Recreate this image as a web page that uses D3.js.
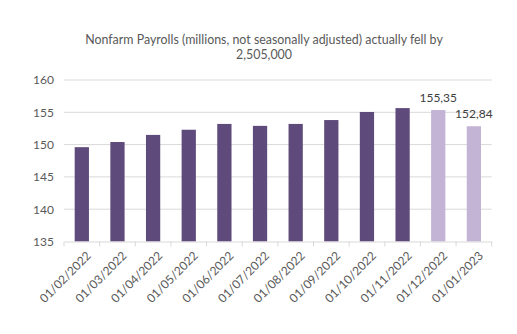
<!DOCTYPE html>
<html><head><meta charset="utf-8">
<script src="https://cdn.jsdelivr.net/npm/d3@7"></script>
<style>
html,body{margin:0;padding:0;background:#fff;}
svg{display:block;font-family:Lato,"Open Sans",sans-serif;}
</style></head>
<body>
<svg id="c" width="517" height="334"></svg>
<script>
const categories = ["01/02/2022","01/03/2022","01/04/2022","01/05/2022","01/06/2022","01/07/2022","01/08/2022","01/09/2022","01/10/2022","01/11/2022","01/12/2022","01/01/2023"];
const values = [149.6,150.4,151.5,152.3,153.2,152.9,153.2,153.8,155.05,155.65,155.35,152.84];
const highlighted = [false,false,false,false,false,false,false,false,false,false,true,true];
const dataLabels = ["","","","","","","","","","","155,35","152,84"];
const yTicks = [135,140,145,150,155,160];
const titleLines = ["Nonfarm Payrolls (millions, not seasonally adjusted) actually fell by","2,505,000"];

const svg = d3.select("#c");
const x0 = 64, x1 = 491.7, yTop = 80, yBot = 241.5;
const x = d3.scaleBand().domain(categories).range([x0, x1]).paddingInner(0.6).paddingOuter(0.3);
const y = d3.scaleLinear().domain([135,160]).range([yBot, yTop]);

// gridlines
svg.append("g").selectAll("line").data(yTicks.filter(t=>t>135)).join("line")
  .attr("x1", x0).attr("x2", x1).attr("y1", d=>y(d)).attr("y2", d=>y(d))
  .attr("stroke", "#d9d9d9").attr("stroke-width", 1);

// y axis labels
const yAxis = d3.axisLeft(y).tickValues(yTicks).tickSize(0).tickPadding(10);
const gy = svg.append("g").attr("transform", `translate(${x0},0)`).call(yAxis);
gy.select(".domain").remove();
gy.selectAll("text").attr("fill", "#595959").style("font-size", "12px").style("font-family","Lato,'Open Sans',sans-serif");

// bars
svg.append("g").selectAll("rect").data(values).join("rect")
  .attr("x", (d,i)=>x(categories[i]))
  .attr("width", x.bandwidth())
  .attr("y", d=>y(d))
  .attr("height", d=>yBot - y(d))
  .attr("fill", (d,i)=>highlighted[i] ? "#c3b4d5" : "#5f4b7b");

// x axis
const xAxis = d3.axisBottom(x).tickSize(0).tickFormat(d=>d);
const gx = svg.append("g").attr("transform", `translate(0,${yBot})`).call(xAxis);
gx.select(".domain").attr("stroke", "#d9d9d9");
const bounds = d3.range(categories.length+1).map(i => x0 + i*(x1-x0)/categories.length);
gx.append("g").selectAll("line").data(bounds).join("line")
  .attr("x1", d=>d).attr("x2", d=>d).attr("y1", 0).attr("y2", 5)
  .attr("stroke", "#d9d9d9");
gx.selectAll(".tick text")
  .attr("fill", "#595959").style("font-size", "12px").style("font-family","Lato,'Open Sans',sans-serif")
  .attr("text-anchor", "end")
  .attr("transform", "translate(7,12) rotate(-45)")
  .attr("dy", "0.35em").attr("y", 0).attr("x", 0);

// data labels
svg.append("g").selectAll("text").data(values).join("text")
  .attr("x", (d,i)=>x(categories[i]) + x.bandwidth()/2)
  .attr("y", d=>y(d) - 8)
  .attr("text-anchor", "middle")
  .attr("fill", "#404040").style("font-size", "12px")
  .text((d,i)=>dataLabels[i]);

// title
svg.append("g").selectAll("text").data(titleLines).join("text")
  .attr("x", 264).attr("y", (d,i)=>44 + i*15)
  .attr("text-anchor", "middle").attr("fill", "#595959").style("font-size", "12.4px")
  .text(d=>d);
</script>
</body></html>
